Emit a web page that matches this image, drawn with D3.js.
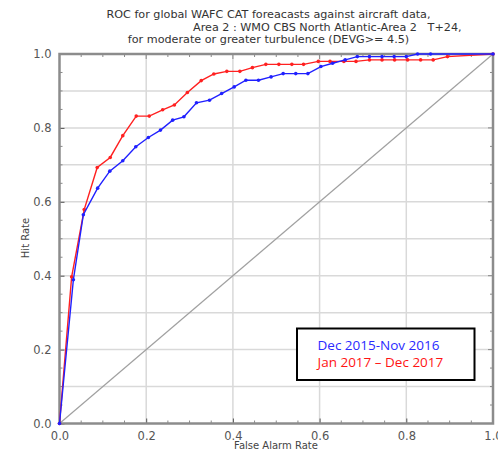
<!DOCTYPE html>
<html lang="en">
<head>
<meta charset="utf-8">
<title>ROC WAFC CAT</title>
<script src="https://cdn.jsdelivr.net/npm/d3@7"></script>
<style>
  body { margin: 0; background: #fff; }
  svg { display: block; }
  .tick text { font-family: "DejaVu Sans", sans-serif; fill: #555; }
</style>
</head>
<body>
<script>
// ROC points (false alarm rate vs hit rate)
var blueFar = [0, 0.032, 0.055, 0.088, 0.116, 0.146, 0.176, 0.205, 0.233, 0.261, 0.287, 0.316, 0.346, 0.374, 0.403, 0.430, 0.459, 0.488, 0.516, 0.545, 0.573, 0.603, 0.630, 0.659, 0.687, 0.715, 0.744, 0.772, 0.800, 0.826, 0.856, 1.0];
var blueHr  = [0, 0.389, 0.565, 0.637, 0.683, 0.711, 0.749, 0.774, 0.794, 0.821, 0.830, 0.868, 0.875, 0.893, 0.911, 0.929, 0.929, 0.938, 0.947, 0.947, 0.947, 0.966, 0.975, 0.984, 0.993, 0.993, 0.993, 0.993, 0.993, 1.0, 1.0, 1.0];
var redFar  = [0, 0.028, 0.057, 0.087, 0.117, 0.146, 0.177, 0.207, 0.238, 0.265, 0.295, 0.327, 0.356, 0.386, 0.416, 0.445, 0.476, 0.506, 0.536, 0.563, 0.597, 0.624, 0.656, 0.684, 0.715, 0.744, 0.773, 0.803, 0.833, 0.862, 0.895, 1.0];
var redHr   = [0, 0.397, 0.579, 0.693, 0.720, 0.779, 0.832, 0.832, 0.849, 0.862, 0.896, 0.928, 0.946, 0.953, 0.953, 0.963, 0.972, 0.972, 0.972, 0.972, 0.980, 0.980, 0.980, 0.980, 0.984, 0.984, 0.984, 0.984, 0.984, 0.984, 0.993, 1.0];
var majorTicks = [0, 0.2, 0.4, 0.6, 0.8, 1.0];
var hGrid = [0.1, 0.2, 0.3, 0.4, 0.5, 0.6, 0.7, 0.8, 0.9];
var vGrid = [0.2, 0.4, 0.6, 0.8];
var minorTicks = [0.05, 0.1, 0.15, 0.25, 0.3, 0.35, 0.45, 0.5, 0.55, 0.65, 0.7, 0.75, 0.85, 0.9, 0.95];
var titleLines = ["ROC for global WAFC CAT foreacasts against aircraft data,",
                  "Area 2 : WMO CBS North Atlantic-Area 2   T+24,",
                  "for moderate or greater turbulence (DEVG>= 4.5)"];
var legendNames = ["Dec 2015-Nov 2016", "Jan 2017 \u2013 Dec 2017"];

var W = 498, H = 452;
var pLeft = 59.5, pRight = 493, pTop = 54, pBottom = 423.5;

var x = d3.scaleLinear().domain([0, 1]).range([pLeft, pRight]);
var y = d3.scaleLinear().domain([0, 1]).range([pBottom, pTop]);

var svg = d3.select("body").append("svg")
    .attr("width", W)
    .attr("height", H);

// grid: horizontal every 0.1, vertical every 0.2
svg.append("g").selectAll("line")
    .data(hGrid)
    .enter().append("line")
    .attr("x1", pLeft).attr("x2", pRight)
    .attr("y1", function (d) { return y(d); })
    .attr("y2", function (d) { return y(d); })
    .attr("stroke", "#d9d9d9")
    .attr("stroke-width", 1.5);
svg.append("g").selectAll("line")
    .data(vGrid)
    .enter().append("line")
    .attr("y1", pTop).attr("y2", pBottom)
    .attr("x1", function (d) { return x(d); })
    .attr("x2", function (d) { return x(d); })
    .attr("stroke", "#d9d9d9")
    .attr("stroke-width", 1.5);

// no-skill diagonal
svg.append("line")
    .attr("x1", x(0)).attr("y1", y(0))
    .attr("x2", x(1)).attr("y2", y(1))
    .attr("stroke", "#a0a0a0")
    .attr("stroke-width", 1.2);

// axes with inward ticks
var xAxis = d3.axisBottom(x).tickValues(majorTicks).tickFormat(d3.format(".1f")).tickSizeInner(-5).tickSizeOuter(0).tickPadding(8);
var yAxis = d3.axisLeft(y).tickValues(majorTicks).tickFormat(d3.format(".1f")).tickSizeInner(-5).tickSizeOuter(0).tickPadding(8);

var gx = svg.append("g").attr("transform", "translate(0," + pBottom + ")").call(xAxis);
var gy = svg.append("g").attr("transform", "translate(" + pLeft + ",0)").call(yAxis);
[gx, gy].forEach(function (g) {
    g.select(".domain").remove();
    g.selectAll(".tick line").attr("stroke", "#555");
    g.selectAll(".tick text").attr("font-size", 11.5);
});

// minor ticks on all four sides
var minor = svg.append("g").attr("stroke", "#888");
minorTicks.forEach(function (d) {
    minor.append("line").attr("x1", x(d)).attr("x2", x(d)).attr("y1", pBottom).attr("y2", pBottom - 3);
    minor.append("line").attr("x1", x(d)).attr("x2", x(d)).attr("y1", pTop).attr("y2", pTop + 3);
    minor.append("line").attr("y1", y(d)).attr("y2", y(d)).attr("x1", pLeft).attr("x2", pLeft + 3);
    minor.append("line").attr("y1", y(d)).attr("y2", y(d)).attr("x1", pRight).attr("x2", pRight - 3);
});
majorTicks.forEach(function (d) {
    minor.append("line").attr("x1", x(d)).attr("x2", x(d)).attr("y1", pTop).attr("y2", pTop + 5);
    minor.append("line").attr("y1", y(d)).attr("y2", y(d)).attr("x1", pRight).attr("x2", pRight - 5);
});

// frame
svg.append("rect")
    .attr("x", pLeft).attr("y", pTop)
    .attr("width", pRight - pLeft).attr("height", pBottom - pTop)
    .attr("fill", "none")
    .attr("stroke", "#8c8c8c")
    .attr("stroke-width", 2.5);

// series
var line = d3.line()
    .x(function (d) { return x(d[0]); })
    .y(function (d) { return y(d[1]); });

function drawSeries(far, hr, colour) {
    var pts = d3.zip(far, hr);
    svg.append("path")
        .datum(pts)
        .attr("d", line)
        .attr("fill", "none")
        .attr("stroke", colour)
        .attr("stroke-width", 1.4);
    svg.append("g").selectAll("circle")
        .data(pts)
        .enter().append("circle")
        .attr("cx", function (d) { return x(d[0]); })
        .attr("cy", function (d) { return y(d[1]); })
        .attr("r", 1.8)
        .attr("fill", colour);
}
drawSeries(redFar, redHr, "#ff2020");
drawSeries(blueFar, blueHr, "#2020ff");

// title
var title = svg.append("g")
    .attr("font-family", "DejaVu Sans, sans-serif")
    .attr("font-size", 11.2)
    .attr("fill", "#333");
title.append("text").attr("x", 268.5).attr("y", 18).attr("text-anchor", "middle").text(titleLines[0]);
title.append("text").attr("x", 193).attr("y", 30.7).attr("text-anchor", "start").attr("xml:space", "preserve").text(titleLines[1]);
title.append("text").attr("x", 268.5).attr("y", 43.4).attr("text-anchor", "middle").text(titleLines[2]);

// axis labels
svg.append("text")
    .attr("x", 276).attr("y", 449)
    .attr("text-anchor", "middle")
    .attr("font-family", "DejaVu Sans, sans-serif")
    .attr("font-size", 10)
    .attr("fill", "#444")
    .text("False Alarm Rate");
svg.append("text")
    .attr("transform", "translate(29,238) rotate(-90)")
    .attr("text-anchor", "middle")
    .attr("font-family", "DejaVu Sans, sans-serif")
    .attr("font-size", 10)
    .attr("fill", "#444")
    .text("Hit Rate");

// legend box
var lg = svg.append("g");
lg.append("rect")
    .attr("x", 297).attr("y", 328.5)
    .attr("width", 177.5).attr("height", 51.5)
    .attr("fill", "#fff")
    .attr("stroke", "#000")
    .attr("stroke-width", 2);
lg.selectAll("text")
    .data(legendNames)
    .enter().append("text")
    .attr("x", 317.5)
    .attr("y", function (d, i) { return 349.5 + i * 17; })
    .attr("font-family", "Open Sans, sans-serif")
    .attr("font-size", 13.5)
    .attr("font-weight", 500)
    .attr("fill", function (d, i) { return i === 0 ? "#2a2aff" : "#ff1414"; })
    .text(function (d) { return d; });
</script>
</body>
</html>
